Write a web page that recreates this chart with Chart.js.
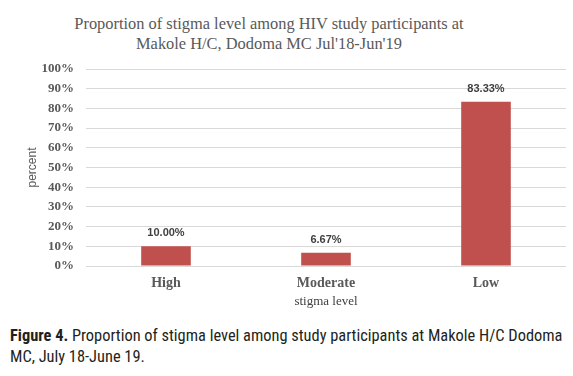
<!DOCTYPE html>
<html>
<head>
<meta charset="utf-8">
<script src="https://cdn.jsdelivr.net/npm/chart.js@4/dist/chart.umd.min.js"></script>
<style>
  html, body { margin:0; padding:0; background:#fff; }
  body { width:573px; height:376px; position:relative; overflow:hidden; }
  #title { position:absolute; left:0; top:14px; width:538px; text-align:center;
    font-family:"Liberation Serif","Times New Roman",serif; font-size:16.4px; line-height:20px; color:#595959; }
  #wrap { position:absolute; left:0; top:0; width:573px; height:315px; }
  #caption { position:absolute; left:10px; top:325px; width:560px;
    font-family:"Liberation Sans Narrow","Arial Narrow","Roboto Condensed",sans-serif; font-size:16.4px; line-height:21px; color:#231f20; white-space:nowrap; }
  #caption b { font-weight:bold; }
</style>
</head>
<body>
<div id="title">Proportion of stigma level among HIV study participants at<br>Makole H/C, Dodoma MC Jul'18-Jun'19</div>
<div id="wrap"><canvas id="c" width="573" height="315"></canvas></div>
<div id="caption"><b>Figure 4.</b> Proportion of stigma level among study participants at Makole H/C Dodoma<br>MC, July 18-June 19.</div>
<script>
const categories = ["High", "Moderate", "Low"];
const values = [10.00, 6.67, 83.33];
const valueLabels = ["10.00%", "6.67%", "83.33%"];
const yTicks = [0, 10, 20, 30, 40, 50, 60, 70, 80, 90, 100];
const xTitle = "stigma level";
const yTitle = "percent";

const dataLabels = {
  id: 'dataLabels',
  afterDatasetsDraw(chart) {
    const ctx = chart.ctx;
    const meta = chart.getDatasetMeta(0);
    ctx.save();
    ctx.font = 'bold 11px "Liberation Sans", Arial, sans-serif';
    ctx.fillStyle = '#404040';
    ctx.textAlign = 'center';
    ctx.textBaseline = 'middle';
    meta.data.forEach((bar, i) => {
      ctx.fillText(valueLabels[i], bar.x, bar.y - 13);
    });
    ctx.restore();
  }
};

new Chart(document.getElementById('c'), {
  type: 'bar',
  data: {
    labels: categories,
    datasets: [{
      data: values,
      backgroundColor: '#C0504D',
      borderWidth: 0,
      categoryPercentage: 1,
      barPercentage: 0.31
    }]
  },
  options: {
    responsive: false,
    animation: false,
    devicePixelRatio: 1,
    layout: { padding: { left: 0, right: 7, top: 69, bottom: 0 } },
    plugins: { legend: { display: false }, title: { display: false }, tooltip: { enabled: false } },
    scales: {
      x: {
        grid: { display: false, drawTicks: false },
        border: { display: false },
        ticks: { padding: 9, color: '#595959', font: { family: '"Liberation Serif", "Times New Roman", serif', size: 14, weight: 'bold' } },
        title: { display: true, text: xTitle, color: '#404040', padding: { top: 0, bottom: 6 },
          font: { family: '"Liberation Serif", "Times New Roman", serif', size: 13 } },
        afterFit(s) { s.height = 49; }
      },
      y: {
        min: 0, max: 100,
        afterBuildTicks(s) { s.ticks = yTicks.map(v => ({ value: v })); },
        grid: { color: '#D9D9D9', lineWidth: 1, drawTicks: false },
        border: { display: false },
        ticks: { padding: 12, color: '#595959', callback: v => v + '%',
          font: { family: '"Liberation Serif", "Times New Roman", serif', size: 13, weight: 'bold' } },
        title: { display: true, text: yTitle, color: '#595959', padding: { top: 25, bottom: 0 },
          font: { family: '"Liberation Sans", Arial, sans-serif', size: 12 } },
        afterFit(s) { s.width = 86; }
      }
    }
  },
  plugins: [dataLabels]
});
</script>
</body>
</html>
